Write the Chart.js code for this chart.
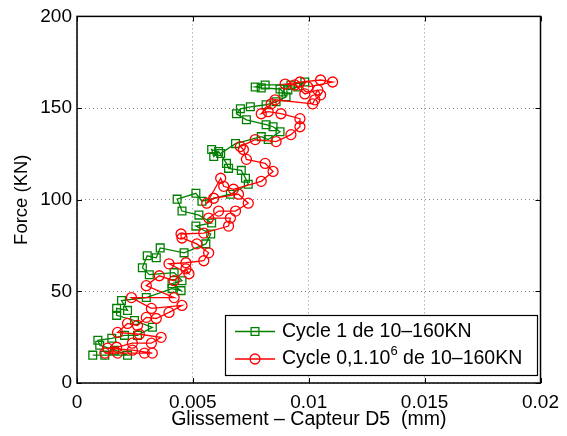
<!DOCTYPE html>
<html><head><meta charset="utf-8">
<script src="https://cdn.jsdelivr.net/npm/chart.js@4/dist/chart.umd.min.js"></script>
<style>html,body{margin:0;padding:0;background:#fff}canvas{display:block}</style>
</head><body>
<canvas id="c" width="567" height="436"></canvas>
<script>
// ---- data ----
const xTicks = [0, 0.005, 0.01, 0.015, 0.02];
const yTicks = [0, 50, 100, 150, 200];
const xTitle = 'Glissement \u2013 Capteur D5  (mm)';
const yTitle = 'Force (KN)';
const seriesLabels = ['Cycle 1 de 10\u2013160KN', 'Cycle 0,1.10\u2076 de 10\u2013160KN'];

const cycle1X = [0.00068,0.00120,0.00218,0.00162,0.00098,0.00090,0.00150,0.00205,0.00261,0.00325,
  0.00248,0.00171,0.00171,0.00218,0.00192,0.00299,0.00410,0.00449,0.00410,0.00453,
  0.00419,0.00312,0.00282,0.00303,0.00342,0.00359,0.00462,0.00556,0.00577,0.00513,
  0.00581,0.00526,0.00453,0.00432,0.00513,0.00539,0.00662,0.00739,0.00727,0.00709,
  0.00654,0.00645,0.00611,0.00590,0.00581,0.00620,0.00684,0.00795,0.00825,0.00876,
  0.00846,0.00816,0.00731,0.00688,0.00705,0.00748,0.00816,0.00859,0.00902,0.00889,
  0.00876,0.00795,0.00769,0.00812,0.00923,0.00983,0.00953,0.00910];
const cycle1Y = [15.2,15.2,15.2,17.9,20.6,23.3,24.4,26.0,26.0,30.4,
  34.1,36.9,40.7,39.6,45.0,46.6,51.5,50.4,54.2,55.8,
  60.2,59.1,62.9,69.4,68.3,73.7,71.0,75.9,81.3,85.6,
  87.3,91.6,93.8,100.3,103.5,99.2,103.0,108.4,111.7,116.0,
  117.1,119.8,126.3,123.6,127.4,125.2,130.6,134.4,132.8,137.1,
  139.8,140.9,143.6,146.9,149.6,150.7,151.8,153.4,156.1,158.8,
  160.4,161.0,161.5,162.6,162.6,164.2,161.5,159.9];

const cycleMX = [0.00120,0.00175,0.00291,0.00325,0.00239,0.00132,0.00171,0.00239,0.00321,0.00363,
  0.00269,0.00175,0.00218,0.00261,0.00299,0.00342,0.00397,0.00453,0.00321,0.00235,
  0.00419,0.00299,0.00355,0.00419,0.00470,0.00483,0.00397,0.00470,0.00547,0.00568,
  0.00517,0.00453,0.00449,0.00547,0.00654,0.00662,0.00568,0.00611,0.00684,0.00739,
  0.00697,0.00590,0.00560,0.00620,0.00633,0.00675,0.00795,0.00846,0.00812,0.00731,
  0.00718,0.00705,0.00769,0.00859,0.00923,0.00962,0.00962,0.00880,0.00825,0.00795,
  0.00838,0.00855,0.01017,0.01026,0.01051,0.01039,0.00983,0.00940,0.00898,0.00962,
  0.01051,0.01103,0.00996];
const cycleMY = [16.3,16.3,16.3,16.3,17.9,19.0,19.5,21.7,21.7,24.9,
  26.6,27.6,32.5,31.4,35.8,35.2,38.5,42.3,40.7,46.6,
  46.6,53.1,58.5,55.8,62.3,59.6,65.0,65.6,66.7,71.0,
  75.9,79.1,81.3,81.8,85.6,90.0,90.0,93.8,93.8,98.1,
  103.0,100.8,98.1,111.7,107.3,105.7,110.0,115.4,119.8,122.0,
  127.4,129.0,132.8,131.7,135.5,139.8,144.2,146.9,148.0,146.9,
  152.3,154.5,152.3,154.5,157.2,159.9,157.7,162.6,163.1,164.2,
  165.3,164.2,161.5];

const GREEN = '#008000', RED = '#ff0000';
const FONT = '"Liberation Sans", Arial, Helvetica, sans-serif';

function pts(xs, ys){ return xs.map((v,i)=>({x:v, y:ys[i]})); }

const frameLegend = {
  id: 'frameLegend',
  afterDraw(chart){
    const {ctx, chartArea:a} = chart;
    const x = chart.scales.x, y = chart.scales.y;
    ctx.save();
    ctx.setLineDash([]);
    ctx.strokeStyle = '#000';
    ctx.lineWidth = 1;
    const tl = 5;
    ctx.beginPath();
    xTicks.forEach(v=>{const p = Math.round(x.getPixelForValue(v))+0.5;
      ctx.moveTo(p,a.bottom); ctx.lineTo(p,a.bottom-tl);
      ctx.moveTo(p,a.top); ctx.lineTo(p,a.top+tl);});
    yTicks.forEach(v=>{const p = Math.round(y.getPixelForValue(v))+0.5;
      ctx.moveTo(a.left,p); ctx.lineTo(a.left+tl,p);
      ctx.moveTo(a.right,p); ctx.lineTo(a.right-tl,p);});
    ctx.stroke();
    ctx.lineWidth = 1.5;
    ctx.strokeRect(a.left, a.top, a.right-a.left, a.bottom-a.top);

    // legend
    const bx = 225, by = 315, bw = 312, bh = 60;
    ctx.fillStyle = '#fff';
    ctx.fillRect(bx, by, bw, bh);
    ctx.lineWidth = 1.2;
    ctx.strokeStyle = '#000';
    ctx.strokeRect(bx+0.5, by+0.5, bw, bh);
    const rows = [331.5, 359];
    chart.data.datasets.forEach((ds, i)=>{
      const ry = rows[i];
      ctx.strokeStyle = ds.borderColor;
      ctx.lineWidth = 1.3;
      ctx.beginPath(); ctx.moveTo(235, ry); ctx.lineTo(275, ry); ctx.stroke();
      ctx.fillStyle = 'rgba(0,0,0,0)';
      Chart.helpers.drawPoint(ctx, {pointStyle: ds.pointStyle, radius: ds.pointRadius, borderWidth: 1.3}, 255, ry);
      // text with superscript handling
      ctx.fillStyle = '#000';
      ctx.textBaseline = 'middle';
      ctx.textAlign = 'left';
      let tx = 282;
      const sup = {'\u2076':'6'};
      let buf = '';
      const flush = ()=>{ if(buf){ ctx.font = '19.5px ' + FONT; ctx.fillText(buf, tx, ry); tx += ctx.measureText(buf).width; buf=''; } };
      for (const ch of ds.label) {
        if (sup[ch]) { flush(); ctx.font = '13px ' + FONT; ctx.fillText(sup[ch], tx, ry-8); tx += ctx.measureText(sup[ch]).width; }
        else buf += ch;
      }
      flush();
    });
    ctx.restore();
  }
};

new Chart(document.getElementById('c'), {
  type: 'scatter',
  data: {
    datasets: [
      { label: seriesLabels[0], data: pts(cycle1X, cycle1Y), showLine: true, tension: 0,
        borderColor: GREEN, backgroundColor: 'rgba(0,0,0,0)', borderWidth: 1.3,
        pointStyle: 'rect', pointRadius: 5.5, pointBorderWidth: 1.3,
        pointBorderColor: GREEN, pointBackgroundColor: 'rgba(0,0,0,0)', order: 1 },
      { label: seriesLabels[1], data: pts(cycleMX, cycleMY), showLine: true, tension: 0,
        borderColor: RED, backgroundColor: 'rgba(0,0,0,0)', borderWidth: 1.3,
        pointStyle: 'circle', pointRadius: 5, pointBorderWidth: 1.3,
        pointBorderColor: RED, pointBackgroundColor: 'rgba(0,0,0,0)', order: 0 }
    ]
  },
  options: {
    responsive: false, animation: false, devicePixelRatio: 1,
    layout: { padding: { left: 0, top: 14, right: 21, bottom: 0 } },
    plugins: { legend: { display: false }, tooltip: { enabled: false } },
    scales: {
      x: {
        type: 'linear', min: 0, max: 0.02,
        afterBuildTicks: s => { s.ticks = xTicks.map(v=>({value:v})); },
        afterFit: s => { s.height = 53; },
        grid: { color: '#8a8a8a', lineWidth: 1, drawTicks: false },
        border: { display: false, dash: [1,3] },
        ticks: { color: '#000', padding: 8, font: { family: FONT, size: 19 }, maxRotation: 0,
                 callback: v => String(Number(v.toFixed(3))) },
        title: { display: true, text: xTitle, color: '#000', font: { family: FONT, size: 19.5 },
                 padding: { top: 0, bottom: 5 } }
      },
      y: {
        type: 'linear', min: 0, max: 200,
        afterBuildTicks: s => { s.ticks = yTicks.map(v=>({value:v})); },
        afterFit: s => { s.width = 77; },
        grid: { color: '#8a8a8a', lineWidth: 1, drawTicks: false },
        border: { display: false, dash: [1,3] },
        ticks: { color: '#000', padding: 5, font: { family: FONT, size: 19 } },
        title: { display: true, text: yTitle, color: '#000', font: { family: FONT, size: 18.5 },
                 padding: { top: 11, bottom: 0 } }
      }
    }
  },
  plugins: [frameLegend]
});
</script>
</body></html>
